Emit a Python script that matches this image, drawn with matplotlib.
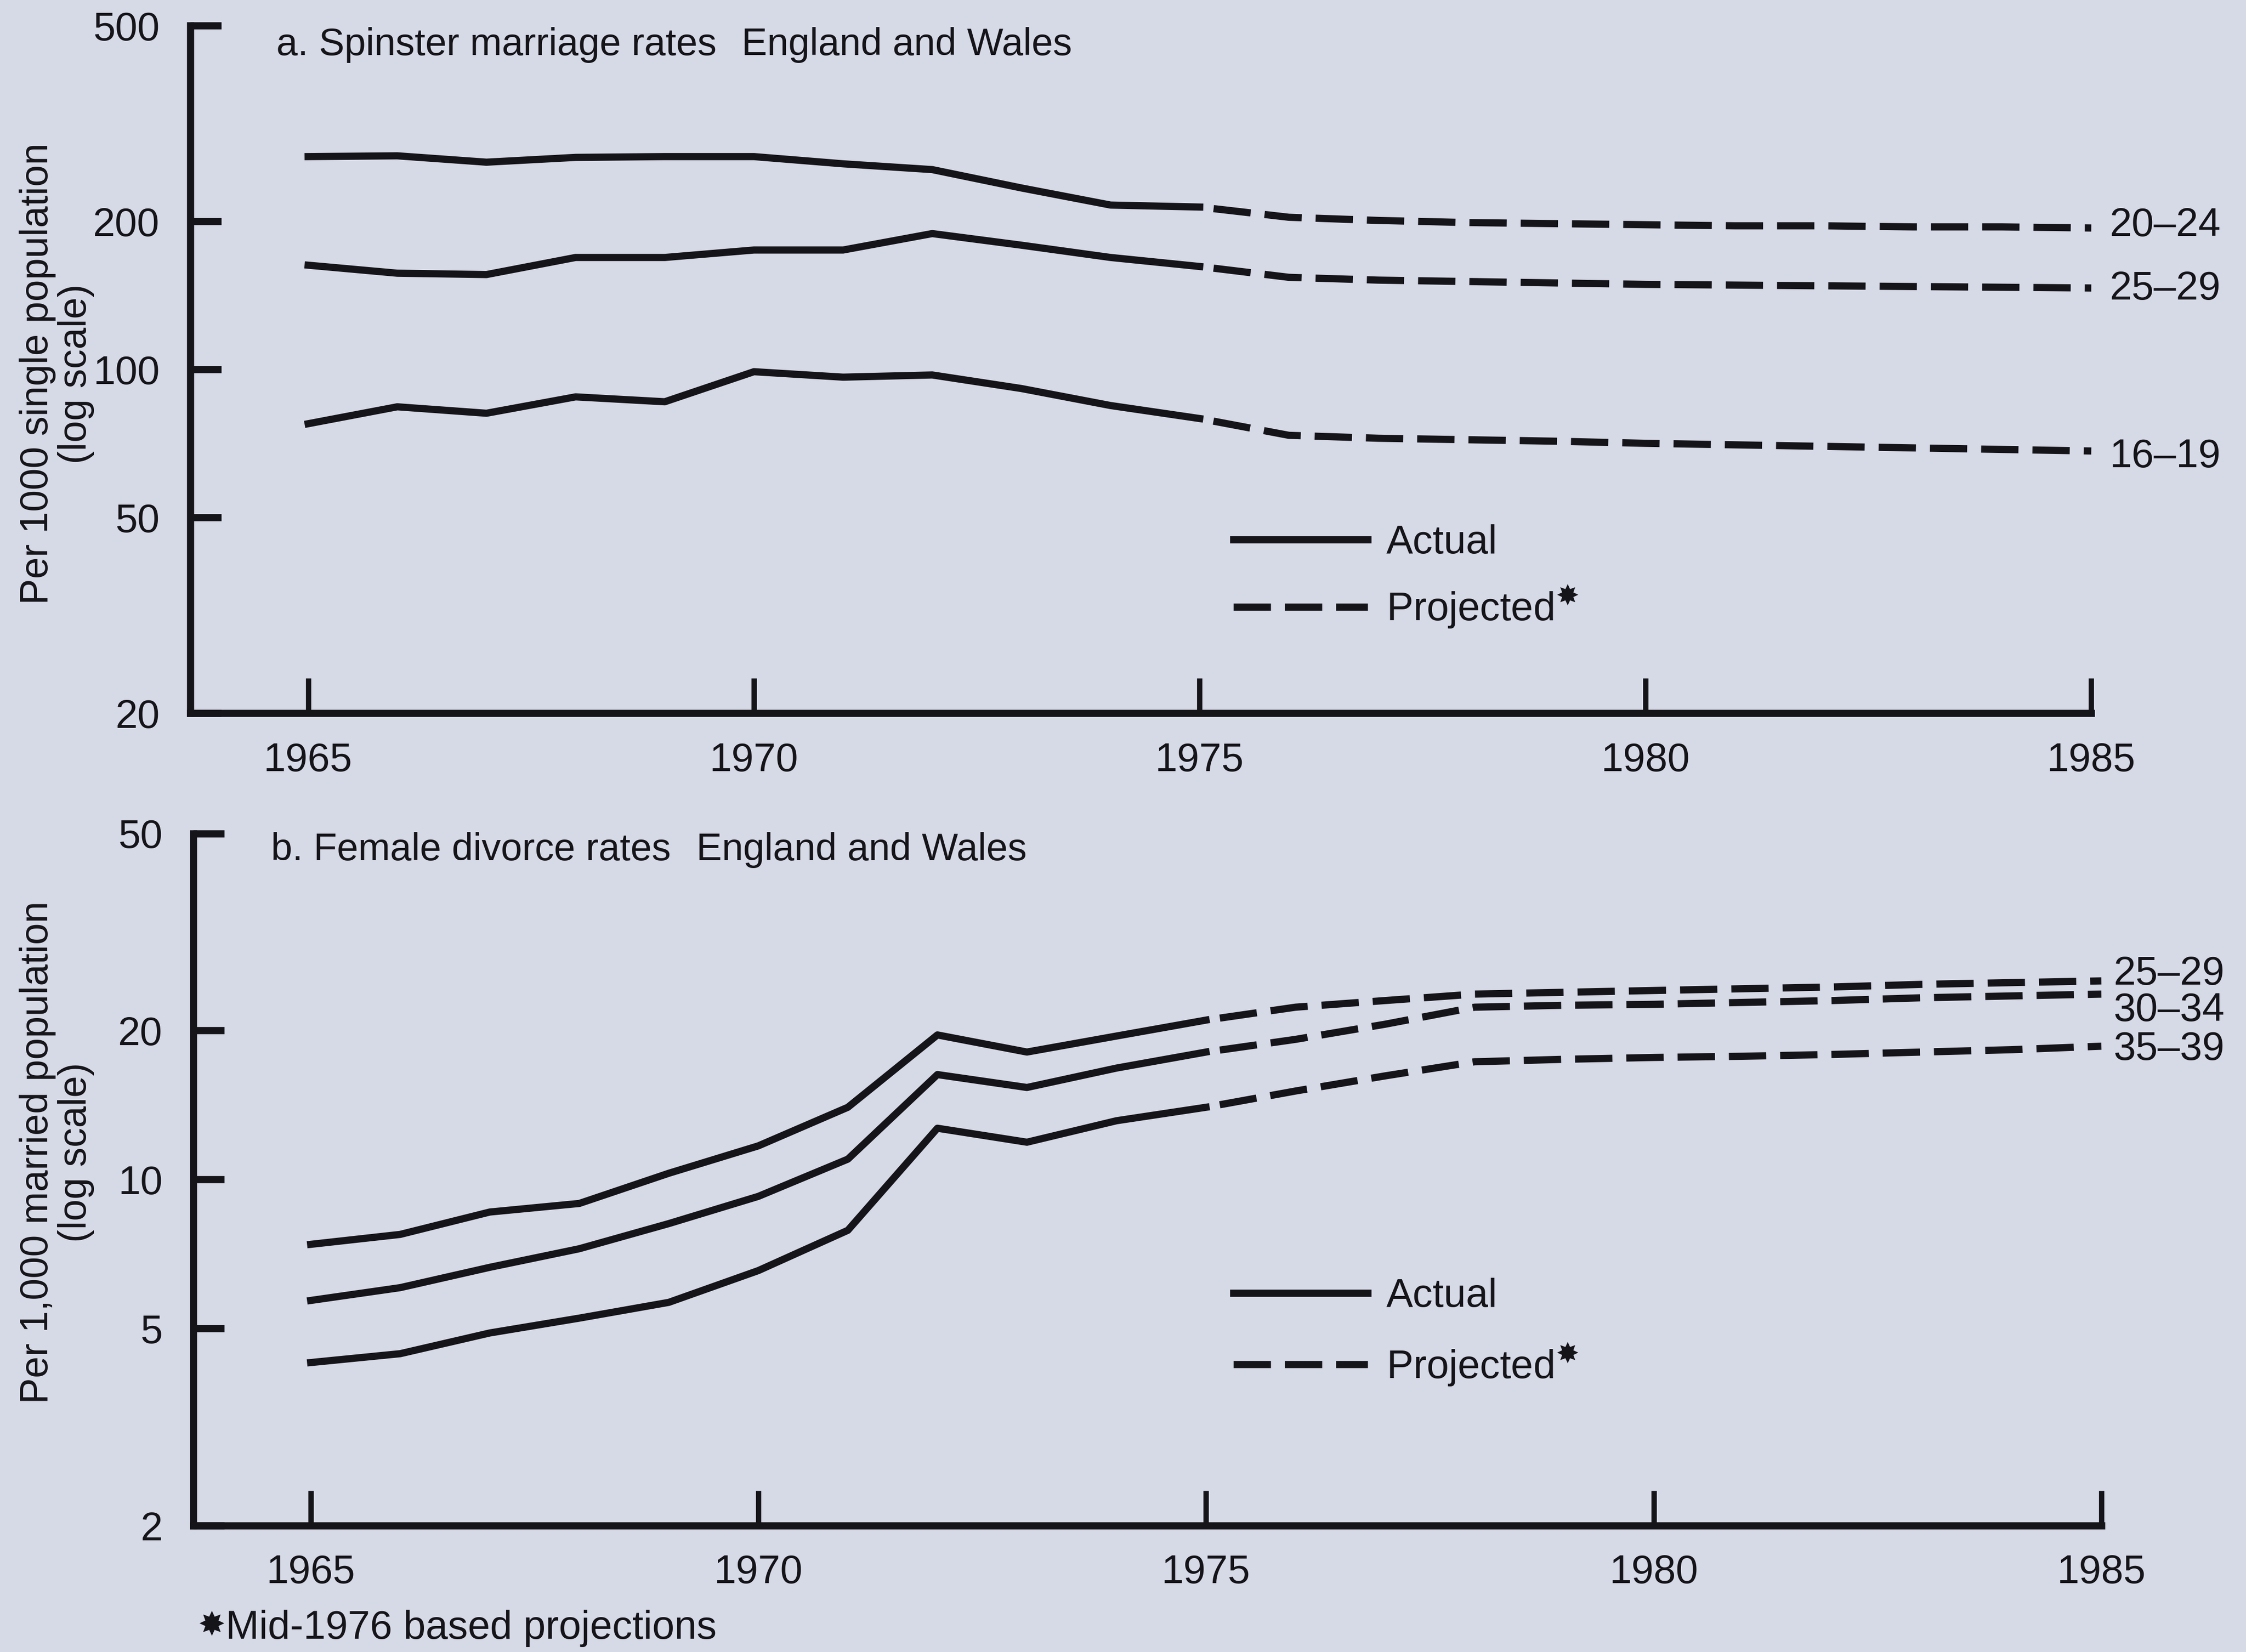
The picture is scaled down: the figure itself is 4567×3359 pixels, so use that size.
import matplotlib
matplotlib.use("Agg")
import matplotlib.pyplot as plt
from matplotlib.lines import Line2D
from matplotlib.ticker import NullLocator

plt.rcParams['font.family'] = ['Liberation Sans', 'DejaVu Sans']

# values
years_actual = [1965, 1966, 1967, 1968, 1969, 1970, 1971, 1972, 1973, 1974, 1975]
years_proj = [1975, 1976, 1977, 1978, 1979, 1980, 1981, 1982, 1983, 1984, 1985]
year_ticks = [1965, 1970, 1975, 1980, 1985]

# a. spinster marriage rates, per 1000 single population
marr_ticks = [20, 50, 100, 200, 500]
marr_2024_act = [271, 272, 264, 270, 271, 271, 262, 255, 234, 216, 214]
marr_2024_proj = [214, 204, 201, 199, 198, 197, 196, 196, 195, 195, 194]
marr_2529_act = [163, 157, 156, 169, 169, 175, 175, 189, 179, 169, 162]
marr_2529_proj = [162, 154, 152, 151, 150, 149, 148.5, 148, 147.5, 147, 146.5]
marr_1619_act = [77.6, 84, 81.5, 88, 86, 99, 96.5, 97.5, 91.5, 84.5, 79.5]
marr_1619_proj = [79.5, 73.5, 72.5, 72, 71.5, 70.8, 70.3, 69.8, 69.3, 68.8, 68.3]
marr_labels = ["20–24", "25–29", "16–19"]

# b. female divorce rates, per 1,000 married population
div_ticks = [2, 5, 10, 20, 50]
div_2529_act = [7.4, 7.75, 8.6, 8.95, 10.3, 11.7, 14.0, 19.6, 18.1, 19.5, 21.0]
div_2529_proj = [21.0, 22.3, 23.0, 23.7, 23.9, 24.1, 24.3, 24.5, 24.8, 25.0, 25.2]
div_3034_act = [5.7, 6.05, 6.65, 7.25, 8.15, 9.25, 11.0, 16.3, 15.35, 16.8, 18.1]
div_3034_proj = [18.1, 19.2, 20.6, 22.3, 22.5, 22.6, 22.8, 23.0, 23.3, 23.5, 23.7]
div_3539_act = [4.27, 4.45, 4.9, 5.25, 5.65, 6.55, 7.9, 12.7, 11.9, 13.15, 14.0]
div_3539_proj = [14.0, 15.1, 16.2, 17.3, 17.5, 17.65, 17.75, 17.9, 18.1, 18.3, 18.6]
div_labels = ["25–29", "30–34", "35–39"]

bg = "#d6d9e6"
ink = "#141419"
fs = 19.5
lw = 3.5
dash_line = (5.2, (5.2, 1.95))
dash_key = (0, (5.2, 1.95))

fig = plt.figure(figsize=(4567 / 300, 3359 / 300), dpi=300, facecolor=bg)
ax_a = fig.add_axes([0.0848, 0.5682, 0.8463, 0.4162])
ax_b = fig.add_axes([0.0861, 0.0765, 0.8495, 0.4189])


def setup(ax, ticks, left):
    ax.set_facecolor("none")
    ax.set_yscale("log")
    ax.set_xlim(left, 1985)
    ax.set_ylim(ticks[0], ticks[-1])
    ax.set_yticks(ticks, [str(t) for t in ticks])
    ax.yaxis.set_minor_locator(NullLocator())
    ax.set_xticks(year_ticks, [str(y) for y in year_ticks])
    for s in ("top", "right"):
        ax.spines[s].set_visible(False)
    for s in ("left", "bottom"):
        ax.spines[s].set_linewidth(3.5)
        ax.spines[s].set_color(ink)
        ax.spines[s].set_capstyle("projecting")
    ax.tick_params(axis="y", direction="in", length=15, width=3.5, pad=15,
                   labelsize=fs, colors=ink)
    ax.tick_params(axis="x", direction="in", length=17, width=2.6, pad=14,
                   labelsize=fs, colors=ink)


def draw(ax, act, proj, labels, offsets, xoff):
    for a, p, lab, dy in zip(act, proj, labels, offsets):
        ax.plot(years_actual, a, color=ink, lw=lw, solid_joinstyle="round",
                clip_on=False)
        ax.plot(years_proj, p, color=ink, lw=lw, linestyle=dash_line,
                dash_capstyle="butt", clip_on=False)
        ax.annotate(lab, xy=(years_proj[-1], p[-1]), xytext=(xoff, dy),
                    textcoords="offset points", ha="left", va="center",
                    fontsize=fs, color=ink, annotation_clip=False)
    handles = [Line2D([], [], color=ink, lw=lw),
               Line2D([], [], color=ink, lw=lw, linestyle=dash_key,
                      dash_capstyle="butt")]
    return handles


setup(ax_a, marr_ticks, 1963.68)
setup(ax_b, div_ticks, 1963.69)

h = draw(ax_a, [marr_2024_act, marr_2529_act, marr_1619_act],
         [marr_2024_proj, marr_2529_proj, marr_1619_proj],
         marr_labels, [1.2, -0.6, -3.0], 9)
ax_a.legend(h, ["Actual", "Projected$^{✸}$"], loc="upper left",
            bbox_to_anchor=(0.5486, 0.275), frameon=False, fontsize=fs,
            handlelength=3.37, handletextpad=0.46, labelspacing=0.55,
            borderpad=0, borderaxespad=0, labelcolor=ink)

h = draw(ax_b, [div_2529_act, div_3034_act, div_3539_act],
         [div_2529_proj, div_3034_proj, div_3539_proj],
         div_labels, [3.2, -8.1, -1.6], 6)
ax_b.legend(h, ["Actual", "Projected$^{✸}$"], loc="upper left",
            bbox_to_anchor=(0.545, 0.358), frameon=False, fontsize=fs,
            handlelength=3.37, handletextpad=0.46, labelspacing=0.65,
            borderpad=0, borderaxespad=0, labelcolor=ink)

# panel titles
tfs = 18.7
fig.text(0.1231, 0.9727, "a. Spinster marriage rates", fontsize=tfs,
         color=ink, va="center")
fig.text(0.3303, 0.9727, "England and Wales", fontsize=tfs, color=ink,
         va="center")
fig.text(0.1206, 0.4853, "b. Female divorce rates", fontsize=tfs,
         color=ink, va="center")
fig.text(0.3101, 0.4853, "England and Wales", fontsize=tfs, color=ink,
         va="center")

# y axis titles
fig.text(0.0252, 0.7737, "Per 1000 single population\n(log scale)",
         rotation=90, ha="center", va="center", multialignment="center",
         fontsize=19, color=ink, linespacing=1.05)
fig.text(0.0252, 0.3024, "Per 1,000 married population\n(log scale)",
         rotation=90, ha="center", va="center", multialignment="center",
         fontsize=19, color=ink, linespacing=1.05)

# footnote
fig.text(0.0880, 0.0158, "✸", family=["DejaVu Sans"], fontsize=16,
         color=ink, va="center")
fig.text(0.1006, 0.0144, "Mid-1976 based projections", fontsize=fs,
         color=ink, va="center")

fig.savefig("out.png", dpi=300, facecolor=bg)
